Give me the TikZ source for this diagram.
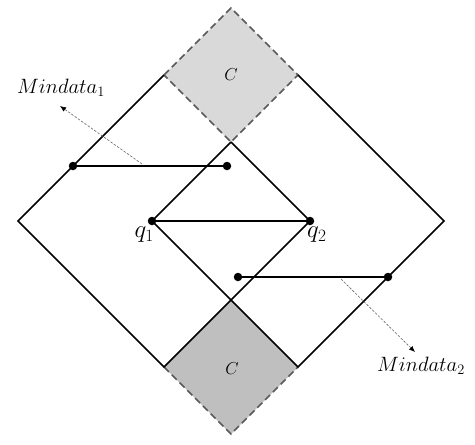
\documentclass[tikz,border=0pt]{standalone}
\usetikzlibrary{arrows.meta}
\begin{document}
\begin{tikzpicture}[x=1pt,y=-1pt,
  edge/.style={line width=1.5pt, black},
  hline/.style={line width=1.8pt, black},
  cbord/.style={line width=1.6pt, black!65, dash pattern=on 7pt off 4pt},
  dot/.style={circle, fill=black, inner sep=0pt, minimum size=8.5pt},
  lab/.style={inner sep=0pt, font=\fontsize{21}{23}\selectfont},
  qlab/.style={inner sep=0pt, font=\fontsize{24}{26}\selectfont},
  clab/.style={inner sep=0pt, font=\fontsize{19}{21}\selectfont},
  marrow/.style={line width=0.6pt, black!60, dash pattern=on 2.5pt off 1.5pt,
    -{Latex[length=6pt,width=5pt,black]}}]
\useasboundingbox (0,0) rectangle (475,445);
% vertices
\coordinate (L1) at (18,221);
\coordinate (T1) at (164,75);
\coordinate (R1) at (310,221);
\coordinate (B1) at (164,367);
\coordinate (L2) at (152,221);
\coordinate (T2) at (298,75);
\coordinate (R2) at (444,221);
\coordinate (B2) at (298,367);
\coordinate (X1) at (231,142);
\coordinate (X2) at (231,300);
\coordinate (Ct) at (231,8);
\coordinate (Cb) at (231,434);
% C regions
\fill[gray!30] (Ct) -- (T2) -- (X1) -- (T1) -- cycle;
\fill[gray!50] (X2) -- (B2) -- (Cb) -- (B1) -- cycle;
\draw[cbord] (T1) -- (Ct) -- (T2) -- (X1) -- cycle;
\draw[cbord] (B1) -- (Cb) -- (B2);
\node[clab] (c1) at (231,75) {$C$};
\node[clab] (c2) at (232,369) {$C$};
% diamonds
\draw[edge] (X1) -- (R1) -- (B1) -- (L1) -- (T1);
\draw[edge] (X1) -- (L2) -- (B2) -- (R2) -- (T2);
% dots
\node[dot] (d1) at (73,166) {};
\node[dot] (d2) at (227,166) {};
\node[dot] (q1) at (L2) {};
\node[dot] (q2) at (R1) {};
\node[dot] (d3) at (238,277) {};
\node[dot] (d4) at (388,277) {};
\draw[hline] (d1.center) -- (d2.center);
\draw[hline] (q1.center) -- (q2.center);
\draw[hline] (d3.center) -- (d4.center);
% labels
\node[qlab, anchor=north east] (lq1) at (154,227) {$q_1$};
\node[qlab, anchor=north west] (lq2) at (307,227) {$q_2$};
\node[lab] (m1) at (61,88) {$Mindata_1$};
\node[lab] (m2) at (421,366) {$Mindata_2$};
% arrows
\coordinate (m1s) at (142,164);
\coordinate (m1e) at (60,106);
\coordinate (m2s) at (341,279);
\coordinate (m2e) at (415,352);
\draw[marrow] (m1s) -- (m1e);
\draw[marrow] (m2s) -- (m2e);
\end{tikzpicture}
\end{document}
